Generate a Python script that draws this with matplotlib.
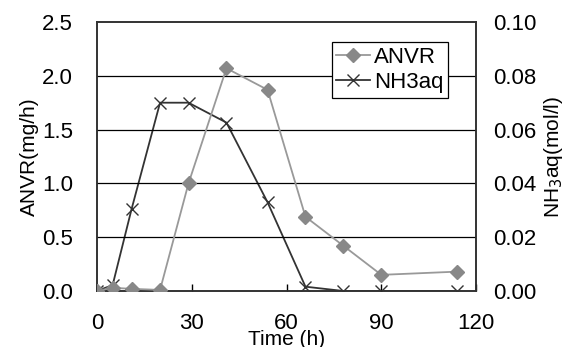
import matplotlib
matplotlib.use("Agg")
import matplotlib.pyplot as plt

# time points (h)
time_h = [0, 5, 11, 20, 29, 41, 54, 66, 78, 90, 114]
# ANVR (mg/h), left axis
anvr = [0.0, 0.03, 0.02, 0.01, 1.0, 2.07, 1.87, 0.69, 0.42, 0.15, 0.18]
# NH3aq (mol/l), right axis
nh3aq = [0.0, 0.0022, 0.0305, 0.070, 0.070, 0.0626, 0.033, 0.0016, 0.0, 0.0, 0.0]

x_ticks = [0, 30, 60, 90, 120]
left_ticks = [0.0, 0.5, 1.0, 1.5, 2.0, 2.5]
right_ticks = [0.0, 0.02, 0.04, 0.06, 0.08, 0.10]

plt.rcParams["font.family"] = ["Liberation Sans", "DejaVu Sans"]

fig = plt.figure(figsize=(5.73, 3.47), dpi=100)
ax = fig.add_axes([0.169, 0.1614, 0.662, 0.7752])
ax2 = ax.twinx()

ax.set_xlim(0, 120)
ax.set_ylim(0, 2.5)
ax2.set_ylim(0, 0.10)

for y in left_ticks[1:-1]:
    ax.axhline(y, color="black", lw=0.9, zorder=1)

l1, = ax.plot(time_h, anvr, color="#999999", lw=1.3, marker="D", ms=7,
              mfc="#888888", mec="#888888", label="ANVR", zorder=3)
l2, = ax2.plot(time_h, nh3aq, color="#333333", lw=1.3, marker="x", ms=9,
               mew=1.0, mec="#333333", label="NH3aq", zorder=3)

ax.set_xticks(x_ticks)
ax.set_yticks(left_ticks)
ax.set_yticklabels([f"{v:.1f}" for v in left_ticks])
ax2.set_yticks(right_ticks)
ax2.set_yticklabels([f"{v:.2f}" for v in right_ticks])

ax.tick_params(axis="x", direction="in", length=5, width=1, labelsize=16, pad=16)
ax.tick_params(axis="y", length=0, labelsize=16, pad=17)
ax2.tick_params(axis="y", length=0, labelsize=16, pad=12)

for a in (ax, ax2):
    for s in a.spines.values():
        s.set_color("#333333")
        s.set_linewidth(1.2)

ax.set_ylabel("ANVR(mg/h)", fontsize=15, labelpad=2)
ax2.set_ylabel("NH$_3$aq(mol/l)", fontsize=15, labelpad=4)
ax.set_xlabel("Time (h)", fontsize=15, labelpad=-3)

leg = ax.legend([l1, l2], ["ANVR", "NH3aq"], loc="upper left",
                bbox_to_anchor=(0.62, 0.925), fontsize=16, frameon=True,
                fancybox=False, framealpha=1, edgecolor="black",
                handlelength=1.5, handletextpad=0.2, borderpad=0.2,
                labelspacing=0.2, borderaxespad=0)
leg.get_frame().set_linewidth(0.9)
leg.set_zorder(10)
ax.set_zorder(ax2.get_zorder() + 1)
ax.patch.set_visible(False)

fig.savefig("out.png", dpi=100)
